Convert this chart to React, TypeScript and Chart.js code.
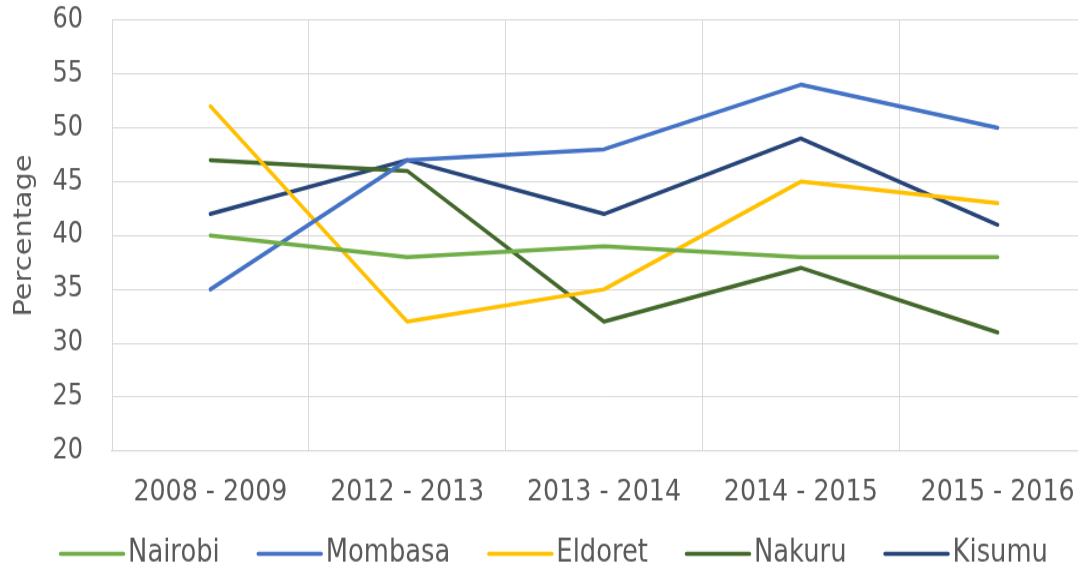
import React, { useEffect, useRef } from "react";
import { Chart, registerables } from "chart.js";

Chart.register(...registerables);

const categories = ["2008 - 2009", "2012 - 2013", "2013 - 2014", "2014 - 2015", "2015 - 2016"];
const nairobi = [40, 38, 39, 38, 38];
const mombasa = [35, 47, 48, 54, 50];
const eldoret = [52, 32, 35, 45, 43];
const nakuru = [47, 46, 32, 37, 31];
const kisumu = [42, 47, 42, 49, 41];
const seriesNames = ["Nairobi", "Mombasa", "Eldoret", "Nakuru", "Kisumu"];
const seriesColors = ["#70AD47", "#4472C4", "#FFC000", "#43682B", "#264478"];
const yTitle = "Percentage";

const SCALE_Y = 1.2;
const CW = 1100;
const CH = Math.round(569 / SCALE_Y);
const FONT = "'DejaVu Sans', Verdana, sans-serif";
const TEXT = "#595959";
const GRID = "#D9D9D9";

const legendPlugin = {
  id: "bottomLegend",
  afterDraw(chart: any) {
    const ctx = chart.ctx;
    const lineLen = 66;
    const gap = 3;
    const spacing = 37;
    const y = 461.5;
    ctx.save();
    ctx.font = `25.8px ${FONT}`;
    const items = chart.data.datasets.map((d: any) => ({
      label: d.label,
      color: d.borderColor,
      w: ctx.measureText(d.label).width,
    }));
    let total = 0;
    items.forEach((it: any, i: number) => {
      total += lineLen + gap + it.w + (i < items.length - 1 ? spacing : 0);
    });
    let x = 553.5 - total / 2;
    items.forEach((it: any) => {
      ctx.strokeStyle = it.color;
      ctx.lineWidth = 3.4;
      ctx.lineCap = "round";
      ctx.beginPath();
      ctx.moveTo(x + 1.5, y);
      ctx.lineTo(x + lineLen - 1.5, y);
      ctx.stroke();
      ctx.fillStyle = TEXT;
      ctx.textBaseline = "middle";
      ctx.textAlign = "left";
      ctx.fillText(it.label, x + lineLen + gap, y);
      x += lineLen + gap + it.w + spacing;
    });
    ctx.restore();
  },
};

export default function App() {
  const ref = useRef<HTMLCanvasElement>(null);
  useEffect(() => {
    if (!ref.current) return;
    const all = [nairobi, mombasa, eldoret, nakuru, kisumu];
    const chart = new Chart(ref.current, {
      type: "line",
      data: {
        labels: categories,
        datasets: all.map((vals, i) => ({
          label: seriesNames[i],
          data: vals,
          borderColor: seriesColors[i],
          backgroundColor: seriesColors[i],
          borderWidth: 3.5,
          pointRadius: 0,
          pointHoverRadius: 0,
          tension: 0,
          borderJoinStyle: "round" as const,
          borderCapStyle: "round" as const,
          fill: false,
        })),
      },
      options: {
        responsive: false,
        animation: false,
        devicePixelRatio: 1,
        layout: { padding: { top: 16.7, right: 4, left: 0, bottom: 46.2 } },
        plugins: { legend: { display: false }, tooltip: { enabled: false } },
        scales: {
          x: {
            type: "category",
            offset: true,
            grid: { offset: true, color: GRID, lineWidth: 1, drawTicks: false },
            border: { display: true, color: GRID, width: 1.3 },
            ticks: { color: TEXT, font: { family: FONT, size: 25.3 }, padding: 19, maxRotation: 0, autoSkip: false },
            afterFit: (s: any) => { s.height = 52; },
          },
          y: {
            min: 20,
            max: 60,
            ticks: { stepSize: 5, color: TEXT, font: { family: FONT, size: 24 }, padding: 0 },
            grid: { color: GRID, lineWidth: 1, drawTicks: true, tickLength: 29, tickColor: "rgba(0,0,0,0)" },
            border: { display: true, color: GRID, width: 1 },
            title: { display: true, text: yTitle, color: TEXT, font: { family: FONT, size: 24 }, padding: { top: 10, bottom: 0 } },
            afterFit: (s: any) => { s.width = 112; },
          },
        },
      },
      plugins: [legendPlugin],
    });
    return () => chart.destroy();
  }, []);
  return (
    <div style={{ position: "fixed", left: 0, top: 0, width: 1078, height: 569, overflow: "hidden", background: "#fff" }}>
      <div style={{ width: CW, height: CH, transform: `scaleY(${SCALE_Y})`, transformOrigin: "0 0" }}>
        <canvas ref={ref} width={CW} height={CH} style={{ width: CW, height: CH, display: "block" }} />
      </div>
    </div>
  );
}
